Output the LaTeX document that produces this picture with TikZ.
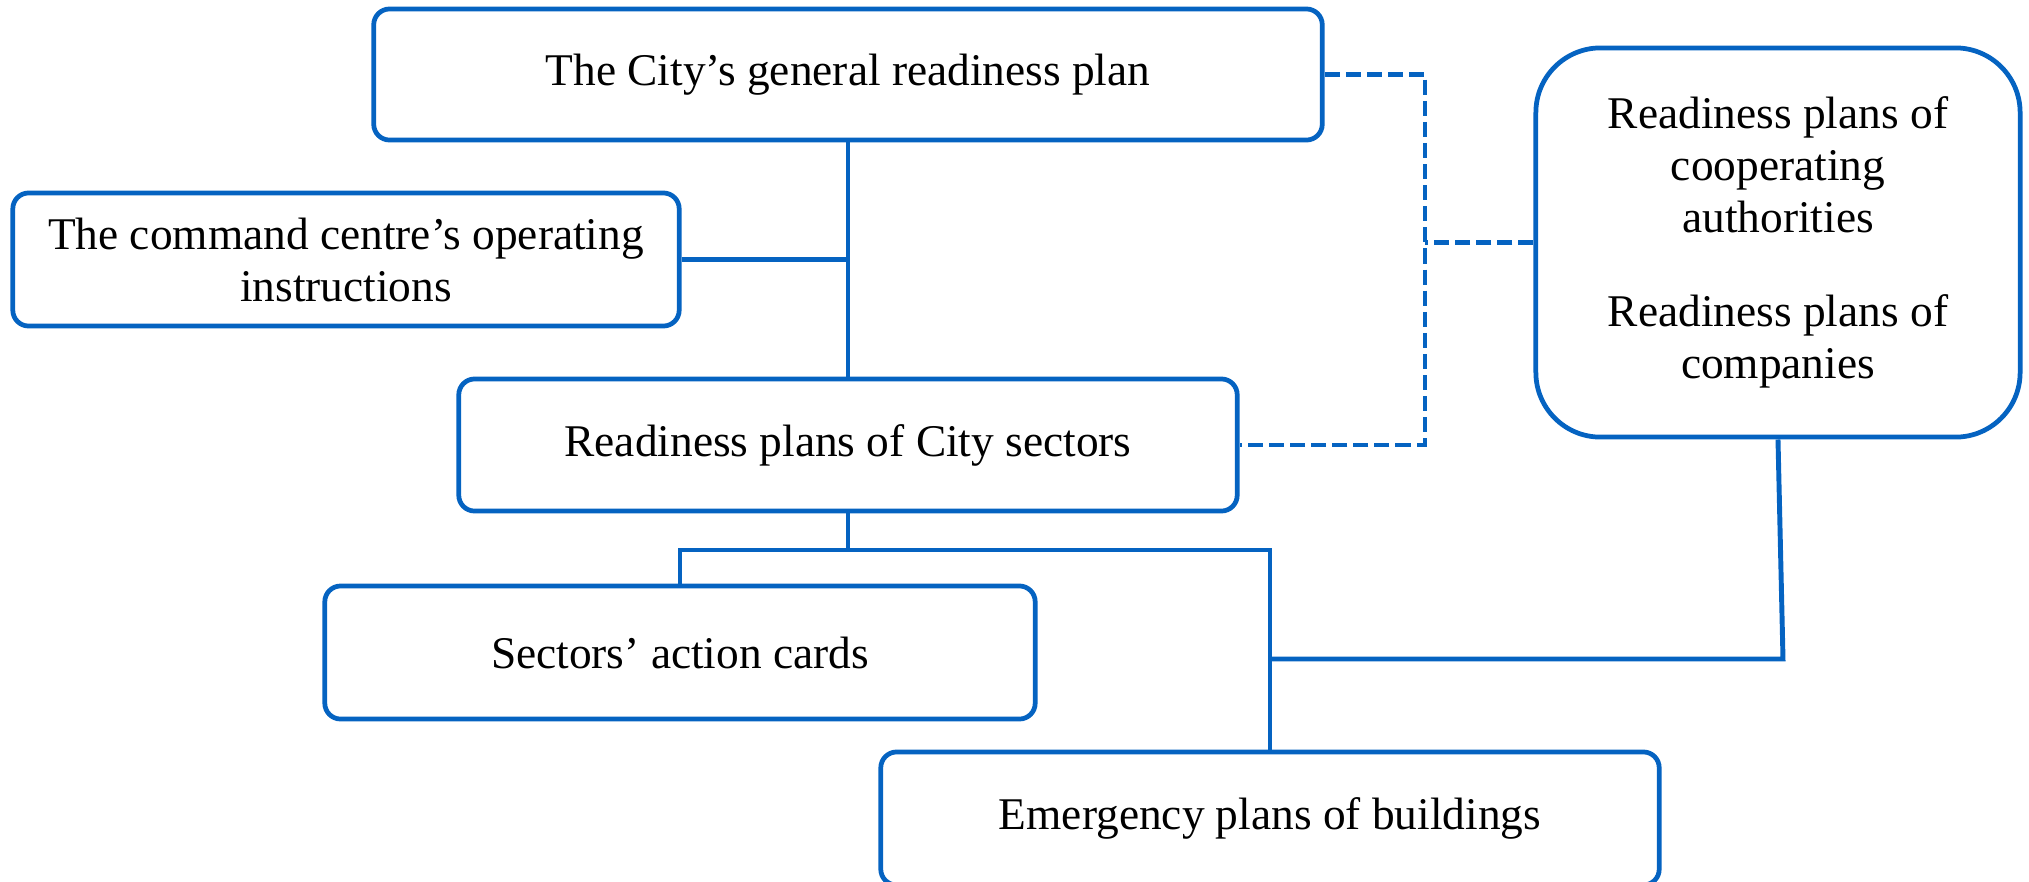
\documentclass[tikz,border=0pt]{standalone}
\usepackage{fontspec}
\setmainfont{Liberation Serif}
\usetikzlibrary{positioning}
\definecolor{planblue}{RGB}{5,99,193}
\tikzset{
  planbox/.style={draw=planblue,line width=1.35pt,rounded corners=4.5pt,fill=white,
    align=center,inner sep=0pt,font=\fontsize{12.9}{14.8}\selectfont},
  link/.style={draw=planblue,line width=1.4pt},
  dashlink/.style={link,dash pattern=on 4.3pt off 1.7pt}
}

\begin{document}
\begin{tikzpicture}[x=0.01cm,y=-0.01cm]
                 \useasboundingbox (0,0) rectangle (2029,881);
                 \node[planbox,minimum width=9.48cm,minimum height=1.31cm](general)at(848,74.5){The City’s general readiness plan};
                 \node[planbox,minimum width=6.66cm,minimum height=1.33cm](command)at(346,259.5){The command centre’s operating\\instructions};
                 \node[planbox,minimum width=7.78cm,minimum height=1.32cm](sectors)at(848,445){Readiness plans of City sectors};
                 \node[planbox,minimum width=7.10cm,minimum height=1.33cm](cards)at(680,652.5){Sectors’ action cards};
                 \node[planbox,minimum width=7.78cm,minimum height=1.33cm](emergency)at(1270,818.5){Emergency plans of buildings};
                 \node[planbox,rounded corners=18.4pt,minimum width=4.84cm,minimum height=3.89cm](others)at(1778,242.5){Readiness plans of\\cooperating\\authorities\\[12pt]Readiness plans of\\companies};
                 \coordinate (split) at (848,550);
                 \coordinate (join) at (1783,659);
                 \coordinate (dashx) at (1425,242.5);
                 \draw[link](general.south)--(sectors.north);
                 \draw[link](command.east)--(command.east -| general.south);
                 \draw[link](sectors.south)--(split);
                 \draw[link](cards.north) |- (split) -| (emergency.north);
                 \draw[link](others.south)--(join)--(join -| emergency.north);
                 \draw[dashlink](general.east) -| (sectors.east -| dashx)--(sectors.east);
                 \draw[dashlink](others.west)--(dashx);
               \end{tikzpicture}
\end{document}
